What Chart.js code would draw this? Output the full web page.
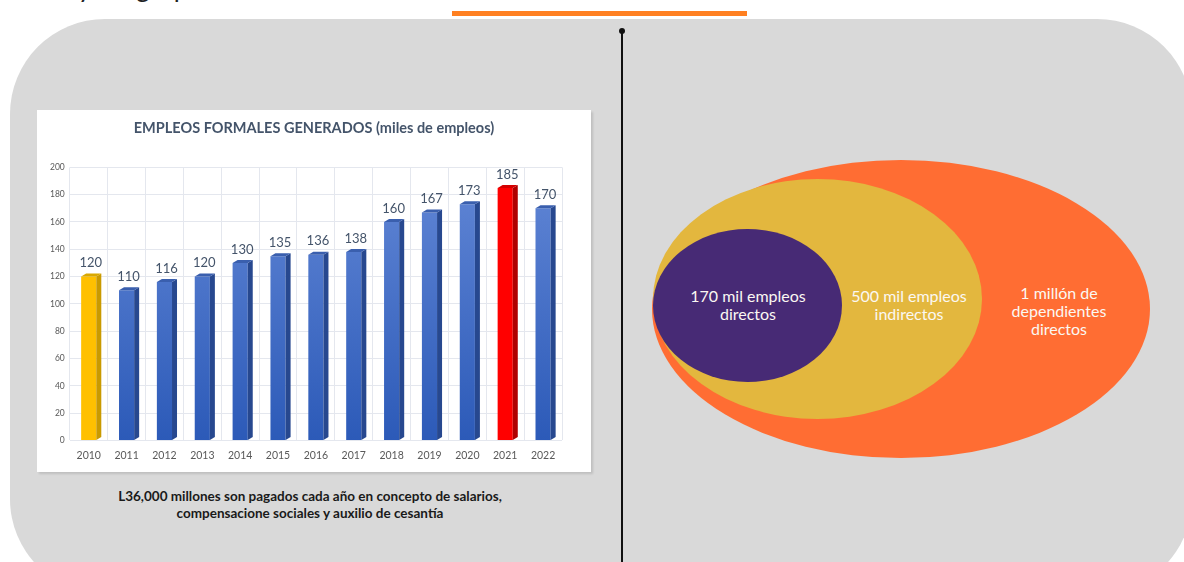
<!DOCTYPE html>
<html lang="es">
<head>
    <meta charset="UTF-8">
    <title>Empleos formales generados</title>
    <script src="https://cdn.jsdelivr.net/npm/chart.js"></script>
    <style>
        body {
            margin: 0;
            width: 1184px;
            height: 562px;
            overflow: hidden;
            background: #ffffff;
            font-family: Lato, "Open Sans", sans-serif;
            position: relative;
        }
        #heading {
            position: absolute;
            left: 78px;
            top: -29px;
            font-size: 26px;
            color: #222;
            white-space: nowrap;
        }
        #orange_bar {
            position: absolute;
            left: 452px;
            top: 11px;
            width: 295px;
            height: 5px;
            background: #ff8021;
        }
        #panel {
            position: absolute;
            left: 10px;
            top: 19px;
            width: 1182px;
            height: 575px;
            background: #d9d9d9;
            border-radius: 95px;
        }
        #chart_box {
            position: absolute;
            left: 37px;
            top: 110px;
            width: 554px;
            height: 362px;
            background: #ffffff;
            box-shadow: 2px 2px 2px rgba(0,0,0,0.12);
        }
        #caption {
            position: absolute;
            left: 60px;
            top: 488px;
            width: 500px;
            text-align: center;
            font-weight: bold;
            font-size: 13.5px;
            line-height: 17px;
            color: #1a1a1a;
        }
        #divider {
            position: absolute;
            left: 621px;
            top: 31px;
            width: 2px;
            height: 540px;
            background: #111;
        }
        #divider_dot {
            position: absolute;
            left: 619px;
            top: 28px;
            width: 6px;
            height: 6px;
            border-radius: 50%;
            background: #111;
        }
        .ellipse {
            position: absolute;
            border-radius: 50%;
        }
        .bubble_text {
            position: absolute;
            color: #fbf8f2;
            font-size: 16px;
            line-height: 18px;
            text-align: center;
            white-space: nowrap;
            transform: translate(-50%, -50%);
        }
    </style>
</head>
<body>

    <div id="heading">y los grupos</div>
    <div id="orange_bar"></div>
    <div id="panel"></div>

    <div id="chart_box">
        <canvas id="empleosChart"></canvas>
    </div>

    <div id="caption">L36,000 millones son pagados cada año en concepto de salarios,<br>compensacione sociales y auxilio de cesantía</div>

    <div id="divider"></div>
    <div id="divider_dot"></div>

    <!-- nested ellipses: dependientes / indirectos / directos -->
    <div class="ellipse" style="left:652px; top:160px; width:498px; height:298px; background:#ff6d33;"></div>
    <div class="ellipse" style="left:653px; top:179px; width:329px; height:240px; background:#e3b73e;"></div>
    <div class="ellipse" style="left:653px; top:229px; width:189px; height:153px; background:#472a75;"></div>

    <div class="bubble_text" style="left:748px; top:305px;">170 mil empleos<br>directos</div>
    <div class="bubble_text" style="left:909px; top:305px;">500 mil empleos<br>indirectos</div>
    <div class="bubble_text" style="left:1059px; top:311px;">1 millón de<br>dependientes<br>directos</div>

    <script>
        // years and thousands of formal jobs created
        const years = ['2010', '2011', '2012', '2013', '2014', '2015', '2016',
                       '2017', '2018', '2019', '2020', '2021', '2022'];
        const empleos = [120, 110, 116, 120, 130, 135, 136, 138, 160, 167, 173, 185, 170];
        const yTicks = [0, 20, 40, 60, 80, 100, 120, 140, 160, 180, 200];

        const FIRST = 0;               // first year in gold
        const PEAK = years.indexOf('2021');  // record year in red

        function frontColor(ctx) {
            if (ctx.dataIndex === FIRST) return '#ffc000';
            if (ctx.dataIndex === PEAK) return '#ff0000';
            const area = ctx.chart.chartArea;
            if (!area) return '#4472c4';
            const g = ctx.chart.ctx.createLinearGradient(0, area.top, 0, area.bottom);
            g.addColorStop(0, '#6287d6');
            g.addColorStop(1, '#2c5ab8');
            return g;
        }

        function sideColor(i) {
            if (i === FIRST) return '#c99a00';
            if (i === PEAK) return '#b00000';
            return '#27488f';
        }

        function topColor(i) {
            if (i === FIRST) return '#d9a800';
            if (i === PEAK) return '#d40000';
            return '#3a5fae';
        }

        // fake 3D: side and top faces for each bar
        const bar3d = {
            id: 'bar3d',
            afterDatasetsDraw(chart) {
                const c = chart.ctx;
                const dx = 5, dy = 3;
                chart.getDatasetMeta(0).data.forEach((bar, i) => {
                    const p = bar.getProps(['x', 'y', 'base', 'width'], true);
                    const l = p.x - p.width / 2, r = p.x + p.width / 2;
                    c.save();
                    c.fillStyle = sideColor(i);
                    c.beginPath();
                    c.moveTo(r, p.y);
                    c.lineTo(r + dx, p.y - dy);
                    c.lineTo(r + dx, p.base - dy);
                    c.lineTo(r, p.base);
                    c.closePath();
                    c.fill();
                    c.fillStyle = topColor(i);
                    c.beginPath();
                    c.moveTo(l, p.y);
                    c.lineTo(l + dx, p.y - dy);
                    c.lineTo(r + dx, p.y - dy);
                    c.lineTo(r, p.y);
                    c.closePath();
                    c.fill();

                    // value over the bar
                    c.fillStyle = '#44546a';
                    c.font = '13px Lato, sans-serif';
                    c.textAlign = 'center';
                    c.textBaseline = 'bottom';
                    c.fillText(empleos[i], p.x + 2, p.y - dy - 4);
                    c.restore();
                });
            }
        };

        new Chart(document.getElementById('empleosChart'), {
            type: 'bar',
            data: {
                labels: years,
                datasets: [{
                    data: empleos,
                    backgroundColor: frontColor,
                    borderWidth: 0,
                    barPercentage: 0.4,
                    categoryPercentage: 1
                }]
            },
            options: {
                responsive: true,
                maintainAspectRatio: false,
                animation: false,
                layout: { padding: { left: 8, right: 8, top: 0, bottom: 1 } },
                plugins: {
                    legend: { display: false },
                    tooltip: { enabled: false },
                    title: {
                        display: true,
                        text: 'EMPLEOS FORMALES GENERADOS (miles de empleos)',
                        color: '#44546a',
                        font: { family: 'Lato', size: 14.5, weight: 'bold' },
                        padding: { top: 10, bottom: 30 }
                    }
                },
                scales: {
                    x: {
                        grid: { color: '#e4e7ee', drawTicks: false },
                        border: { display: false },
                        ticks: {
                            color: '#595959',
                            font: { family: 'Lato', size: 10.5 },
                            padding: 9
                        }
                    },
                    y: {
                        min: 0,
                        max: 200,
                        afterBuildTicks(scale) {
                            scale.ticks = yTicks.map(v => ({ value: v }));
                        },
                        grid: { color: '#e4e7ee', drawTicks: false },
                        border: { display: false },
                        ticks: {
                            color: '#595959',
                            font: { family: 'Lato', size: 8.5 },
                            padding: 5
                        }
                    },
                    // empty strip on the right, keeps the title centred on the box
                    gap: {
                        position: 'right',
                        grid: { display: false },
                        border: { display: false },
                        ticks: { display: false },
                        afterFit(scale) { scale.width = 21; }
                    }
                }
            },
            plugins: [bar3d]
        });
    </script>

</body>
</html>
